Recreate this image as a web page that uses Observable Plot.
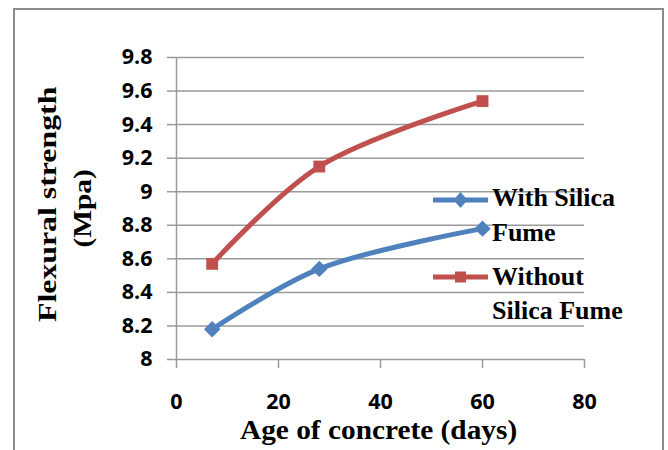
<!DOCTYPE html>
<html>
<head>
<meta charset="utf-8">
<script src="https://cdn.jsdelivr.net/npm/d3@7"></script>
<script src="https://cdn.jsdelivr.net/npm/@observablehq/plot@0.6"></script>
<style>
  body { margin: 0; background: #fff; }
  #wrap { position: relative; width: 668px; height: 450px; overflow: hidden; background: #fff; }
  #chart { position: absolute; left: 0; top: 0; }
  #frame { position: absolute; left: 13px; top: 8px; width: 651px; height: 460px;
           border: 2px solid #8c8c8c; border-bottom: none; box-sizing: border-box; pointer-events: none; }
  .lbl { position: absolute; white-space: nowrap; line-height: 0.75; color: #000;
         font-family: "Liberation Serif", "Times New Roman", serif; font-weight: bold; }
  .sw { position: absolute; }
</style>
</head>
<body>
<div id="wrap">
  <div id="chart"></div>
  <div id="frame"></div>
</div>
<script>
// ---- data ----
const ages = [7, 28, 60];
const withSilica = [8.18, 8.54, 8.78];
const withoutSilica = [8.57, 9.15, 9.54];
const seriesNames = ["With Silica Fume", "Without Silica Fume"];
const seriesColors = ["#4F81BD", "#C0504D"];
const xTicks = [0, 20, 40, 60, 80];
const yTicks = [8, 8.2, 8.4, 8.6, 8.8, 9, 9.2, 9.4, 9.6, 9.8];
const xTitle = "Age of concrete (days)";
const yTitle1 = "Flexural strength";
const yTitle2 = "(Mpa)";
const legendLines = [["With Silica", "Fume"], ["Without", "Silica Fume"]];

const rows = [];
ages.forEach((a, i) => {
  rows.push({age: a, value: withSilica[i], series: seriesNames[0]});
  rows.push({age: a, value: withoutSilica[i], series: seriesNames[1]});
});

const grid = "#9a9a9a";
const chart = Plot.plot({
  width: 668,
  height: 450,
  marginLeft: 176,
  marginRight: 84,
  marginTop: 57,
  marginBottom: 91,
  x: {domain: [0, 80]},
  y: {domain: [8, 9.8]},
  color: {domain: seriesNames, range: seriesColors},
  style: {fontFamily: "'Open Sans', sans-serif", fontWeight: "bold", fontSize: "21.5px", color: "#000", background: "transparent"},
  marks: [
    Plot.gridY(yTicks, {stroke: grid, strokeOpacity: 1, strokeWidth: 1.5}),
    Plot.ruleX([0], {stroke: grid, strokeWidth: 1.5}),
    Plot.axisY({ticks: yTicks, tickSize: 9, tickPadding: 15, stroke: grid, strokeWidth: 1.5,
                tickFormat: d => String(d), label: null, fill: "#000"}),
    Plot.axisX({ticks: xTicks, tickSize: 9, tickPadding: 25, stroke: grid, strokeWidth: 1.5,
                tickFormat: d => String(d), label: null, fill: "#000"}),
    Plot.line(rows, {x: "age", y: "value", z: "series", stroke: "series", strokeWidth: 5, curve: "catmull-rom"}),
    Plot.dot(rows.filter(d => d.series === seriesNames[0]), {x: "age", y: "value", symbol: "diamond2", r: 7.4, fill: seriesColors[0], stroke: "none"}),
    Plot.dot(rows.filter(d => d.series === seriesNames[1]), {x: "age", y: "value", symbol: "square", r: 6.7, fill: seriesColors[1], stroke: "none"})
  ]
});
document.getElementById("chart").appendChild(chart);

// ---- text placement helpers (titles / legend overlays) ----
const wrap = document.getElementById("wrap");
const LH = 0.75;                                  // css line-height of .lbl
const BASE = 0.891 - (1.107 - LH) / 2;            // baseline offset (em) for Liberation Serif
function placeText(txt, ax, ay, fs, opts = {}) {
  // (ax, ay) = point on the baseline; anchor "middle" or "start"
  const el = document.createElement("div");
  el.className = "lbl";
  el.textContent = txt;
  el.style.fontSize = fs + "px";
  wrap.appendChild(el);
  const w = el.offsetWidth;
  const base = BASE * fs;
  const s = opts.length ? opts.length / w : 1;
  const ox = opts.anchor === "start" ? 0 : w / 2;
  el.style.left = (ax - ox) + "px";
  el.style.top = (ay - base) + "px";
  el.style.transformOrigin = ox + "px " + base + "px";
  el.style.transform = (opts.rotate ? "rotate(" + opts.rotate + "deg) " : "") + "scaleX(" + s + ")";
  return el;
}

// axis titles
placeText(xTitle, 378, 439, 27, {length: 277});
placeText(yTitle1, 57, 204.5, 26, {length: 235, rotate: -90});
placeText(yTitle2, 91, 209, 26, {length: 78, rotate: -90});

// legend
const ns = "http://www.w3.org/2000/svg";
function swatch(cy, color, kind) {
  const svg = document.createElementNS(ns, "svg");
  svg.setAttribute("class", "sw");
  svg.setAttribute("width", 60);
  svg.setAttribute("height", 24);
  svg.style.left = "431px";
  svg.style.top = (cy - 12) + "px";
  const ln = document.createElementNS(ns, "line");
  ln.setAttribute("x1", 2); ln.setAttribute("x2", 57);
  ln.setAttribute("y1", 12); ln.setAttribute("y2", 12);
  ln.setAttribute("stroke", color); ln.setAttribute("stroke-width", 5);
  svg.appendChild(ln);
  let m;
  if (kind === "diamond") {
    m = document.createElementNS(ns, "path");
    m.setAttribute("d", "M29.5,4 L36.5,12 L29.5,20 L22.5,12 Z");
  } else {
    m = document.createElementNS(ns, "rect");
    m.setAttribute("x", 24); m.setAttribute("y", 6.5);
    m.setAttribute("width", 11); m.setAttribute("height", 11);
  }
  m.setAttribute("fill", color);
  svg.appendChild(m);
  wrap.appendChild(svg);
}
swatch(200, seriesColors[0], "diamond");
swatch(277, seriesColors[1], "square");
placeText(legendLines[0][0], 492, 207, 26, {anchor: "start"});
placeText(legendLines[0][1], 492, 242, 26, {anchor: "start"});
placeText(legendLines[1][0], 492, 286, 26, {anchor: "start"});
placeText(legendLines[1][1], 492, 320, 26, {anchor: "start"});
</script>
</body>
</html>
